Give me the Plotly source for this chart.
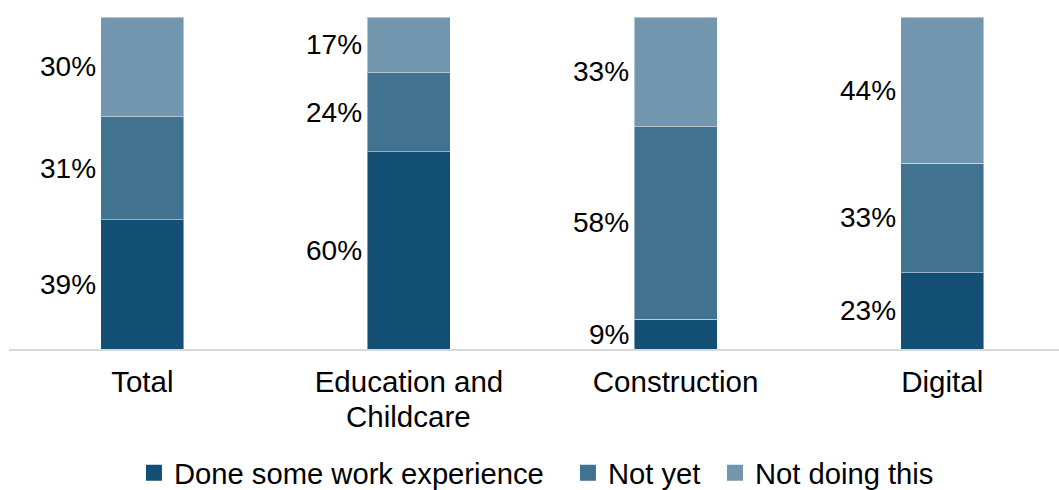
import plotly.graph_objects as go

# Share of learners by sector and work-experience status (%)
categories = ["Total", "Education and", "Construction", "Digital"]
category_second_line = {1: "Childcare"}
done_work = [39, 60, 9, 23]
not_yet = [31, 24, 58, 33]
not_doing = [30, 17, 33, 44]

series = [
    ("Done some work experience", done_work, "#134f74", 389),
    ("Not yet", not_yet, "#41728f", 102),
    ("Not doing this", not_doing, "#7196ae", 200),
]

BAR_W = 0.311
FONT = "Liberation Sans, Arial, sans-serif"
FS = 29.5
LEGEND_FS = 29.2
LABEL_FS = 28
x_idx = list(range(len(categories)))

fig = go.Figure()
for name, vals, color, _ in series:
    fig.add_trace(go.Bar(
        x=x_idx, y=vals, name=name, width=BAR_W,
        marker=dict(color=color, line=dict(color="rgba(255,255,255,0.45)", width=1)),
        showlegend=False, hoverinfo="skip",
    ))

# Legend entries drawn as square markers
for name, vals, color, lw in series:
    fig.add_trace(go.Scatter(
        x=[None], y=[None], mode="markers", name=name,
        marker=dict(symbol="square", size=16, color=color),
        legendwidth=lw,
    ))

# Value labels placed left of each segment, centred on the normalised segment
totals = [sum(v) for v in zip(done_work, not_yet, not_doing)]
for i in x_idx:
    base = 0.0
    for _, vals, _, _ in series:
        share = vals[i] / totals[i] * 100
        fig.add_annotation(
            x=i - BAR_W / 2, y=base + share / 2, xref="x", yref="y",
            text=f"{vals[i]}%", showarrow=False, xanchor="right", yanchor="middle",
            xshift=-3, font=dict(family=FONT, size=LABEL_FS, color="#000000"),
        )
        base += share

# Second line of wrapped category names, with tighter line spacing
for i, txt in category_second_line.items():
    fig.add_annotation(
        x=i, y=0, xref="x", yref="y", text=txt, showarrow=False,
        xanchor="center", yanchor="top", yshift=-49,
        font=dict(family=FONT, size=FS, color="#000000"),
    )

fig.update_layout(
    template="none",
    width=1059, height=490,
    margin=dict(l=9, r=0, t=17, b=141, autoexpand=False),
    barmode="stack", barnorm="percent",
    paper_bgcolor="white", plot_bgcolor="white",
    font=dict(family=FONT, size=FS, color="#000000"),
    xaxis=dict(
        range=[-0.5, 3.438], tickmode="array", tickvals=x_idx, ticktext=categories,
        showline=True, linecolor="#d9d9d9", linewidth=1.5, showgrid=False,
        ticks="", zeroline=False, fixedrange=True, automargin=False,
        ticklabelstandoff=6,
    ),
    yaxis=dict(range=[0, 100], visible=False, showgrid=False, zeroline=False,
               automargin=False),
    legend=dict(
        orientation="h", x=0.119, xanchor="left",
        yref="container", y=0.035, yanchor="middle",
        font=dict(family=FONT, size=LEGEND_FS), itemsizing="trace",
        traceorder="normal", bgcolor="rgba(0,0,0,0)",
    ),
)

fig.write_html("out.html")
